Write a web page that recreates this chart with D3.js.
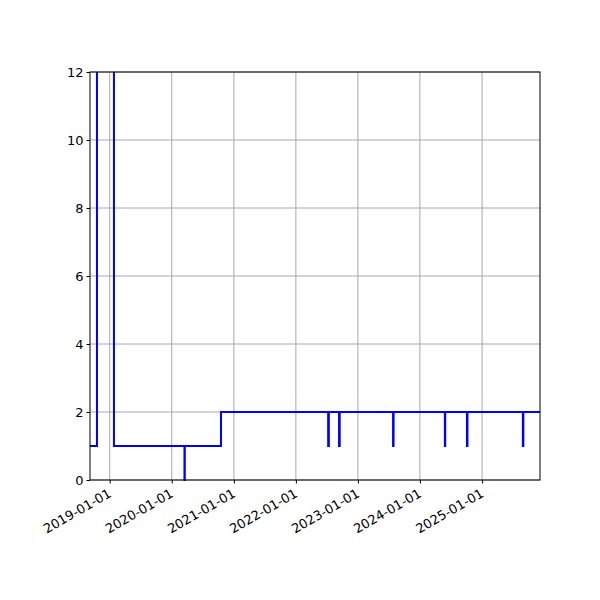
<!DOCTYPE html>
<html>
<head>
<script src="https://cdn.jsdelivr.net/npm/d3@7"></script>
<style>body{margin:0;background:#fff;font-family:"DejaVu Sans",sans-serif;}</style>
</head>
<body>
<div id="chart"></div>
<script>
// step data: value holds from this date until the next
var dates = ["2018-09-07","2018-10-18","2019-01-26","2020-03-16","2020-03-18","2020-10-17",
  "2022-07-10","2022-07-14","2022-09-12","2022-09-16","2023-07-27","2023-07-30",
  "2024-05-27","2024-05-29","2024-10-04","2024-10-07","2025-08-29","2025-09-01","2025-12-08"];
var values = [1,30,1,0,1,2,1,2,1,2,1,2,1,2,1,2,1,2,2];
var yTicks = [0,2,4,6,8,10,12];
var xTicks = ["2019-01-01","2020-01-01","2021-01-01","2022-01-01","2023-01-01","2024-01-01","2025-01-01"];

var parse = d3.timeParse("%Y-%m-%d");
var data = dates.map(function (d, i) { return { date: parse(d), value: values[i] }; });

var margin = { top: 72, right: 60, bottom: 120, left: 90 };
var width = 600 - margin.left - margin.right;
var height = 600 - margin.top - margin.bottom;

var svg = d3.select("#chart").append("svg")
  .attr("width", 600).attr("height", 600)
  .append("g")
  .attr("transform", "translate(" + margin.left + "," + margin.top + ")");

var x = d3.scaleTime().domain([parse("2018-09-07"), parse("2025-12-08")]).range([0, width]);
var y = d3.scaleLinear().domain([0, 12]).range([height, 0]);

// grid
svg.selectAll(".gx").data(xTicks).enter().append("line")
  .attr("x1", function (d) { return x(parse(d)); }).attr("x2", function (d) { return x(parse(d)); })
  .attr("y1", 0).attr("y2", height).attr("stroke", "#a8a8a8").attr("stroke-width", 1);
svg.selectAll(".gy").data(yTicks).enter().append("line")
  .attr("x1", 0).attr("x2", width)
  .attr("y1", function (d) { return y(d); }).attr("y2", function (d) { return y(d); })
  .attr("stroke", "#a8a8a8").attr("stroke-width", 1);

svg.append("clipPath").attr("id", "clip").append("rect")
  .attr("width", width).attr("height", height + 1);

var line = d3.line()
  .x(function (d) { return x(d.date); })
  .y(function (d) { return y(d.value); })
  .curve(d3.curveStepAfter);

svg.append("path").datum(data)
  .attr("clip-path", "url(#clip)")
  .attr("fill", "none").attr("stroke", "blue").attr("stroke-width", 2)
  .attr("d", line);

// axes
var xAxis = d3.axisBottom(x).tickValues(xTicks.map(parse))
  .tickFormat(d3.timeFormat("%Y-%m-%d")).tickSize(3.5).tickSizeOuter(0);
var gx = svg.append("g").attr("transform", "translate(0," + height + ")").call(xAxis);
gx.selectAll("text")
  .attr("font-size", 13).attr("font-family", "DejaVu Sans").attr("fill", "#000")
  .style("text-anchor", "end")
  .attr("y", 0).attr("dx", "0").attr("dy", "0")
  .attr("transform", "translate(2,16) rotate(-30)");

var yAxis = d3.axisLeft(y).tickValues(yTicks).tickSize(3.5).tickSizeOuter(0);
var gy = svg.append("g").call(yAxis);
gy.selectAll("text").attr("font-size", 13).attr("font-family", "DejaVu Sans").attr("fill", "#000");

svg.selectAll(".domain").remove();
svg.append("rect").attr("width", width).attr("height", height)
  .attr("fill", "none").attr("stroke", "#000").attr("stroke-width", 1);
</script>
</body>
</html>
